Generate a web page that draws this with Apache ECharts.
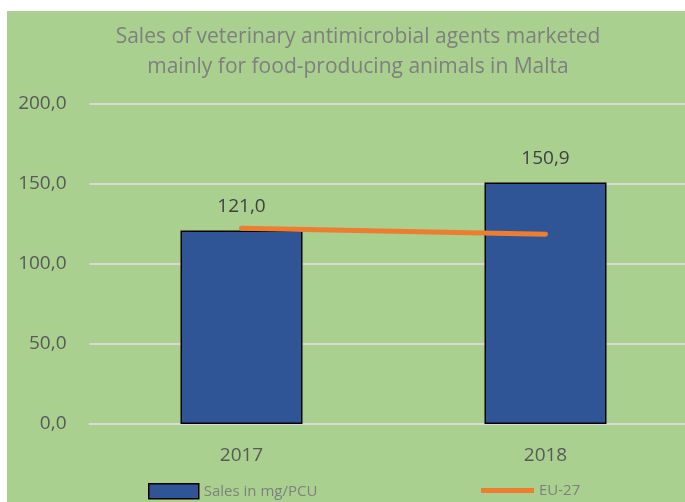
<!DOCTYPE html>
<html>
<head>
<meta charset="utf-8">
<script src="https://cdn.jsdelivr.net/npm/echarts@6/dist/echarts.min.js"></script>
<style>
html,body{margin:0;padding:0;background:#fff;overflow:hidden;width:685px;height:502px;}
#chart{width:700px;height:502px;}
</style>
</head>
<body>
<div id="chart"></div>
<script>
var categories = ['2017', '2018'];
var salesValues = [121.0, 150.9];
var euValues = [122.3, 118.6];
var yTicks = [0, 50, 100, 150, 200];
var titleLines = ['Sales of veterinary antimicrobial agents marketed', 'mainly for food-producing animals in Malta'];

var FONT = '"Open Sans", sans-serif';
function fmt(v){ return v.toFixed(1).replace('.', ','); }

var chart = echarts.init(document.getElementById('chart'));
chart.setOption({
  animation: false,
  backgroundColor: '#ffffff',
  graphic: [{
    type: 'rect', z: -100, silent: true,
    shape: {x: 7, y: 11, width: 700, height: 500},
    style: {fill: '#A9D08E'}
  }],
  title: {
    text: titleLines.join('\n'),
    left: 358, top: 22, textAlign: 'center', padding: 0,
    textStyle: {fontFamily: FONT, fontSize: 21, fontWeight: 'normal', color: '#7F7F7F', lineHeight: 30}
  },
  grid: {left: 89.5, right: 2.5, top: 104, height: 320, containLabel: false},
  xAxis: {
    type: 'category', data: categories,
    axisLine: {show: true, lineStyle: {color: '#D9D9D9', width: 2}},
    axisTick: {show: false},
    axisLabel: {fontFamily: FONT, fontSize: 19, color: '#595959', margin: 22}
  },
  yAxis: {
    type: 'value', min: 0, max: 200, interval: 50,
    axisLine: {show: false}, axisTick: {show: false},
    splitLine: {lineStyle: {color: '#D9D9D9', width: 2}},
    axisLabel: {fontFamily: FONT, fontSize: 19, color: '#595959', margin: 23, formatter: function(v){ return fmt(v); }}
  },
  legend: [{
    left: 148, top: 483, itemWidth: 50, itemHeight: 15, itemGap: 5, padding: 0,
    data: [{name: 'Sales in mg/PCU', icon: 'rect', itemStyle: {borderColor: '#000', borderWidth: 1.5}}],
    textStyle: {fontFamily: FONT, fontSize: 15, color: '#7F7F7F'}
  }, {
    left: 481, top: 483, itemWidth: 53, itemHeight: 15, padding: 0,
    data: [{name: 'EU-27', icon: 'path://M0,5 L53,5 L53,10 L0,10 Z'}],
    textStyle: {fontFamily: FONT, fontSize: 15, color: '#7F7F7F'}
  }],
  series: [{
    name: 'Sales in mg/PCU', type: 'bar', data: salesValues, barWidth: 122,
    itemStyle: {color: '#2F5597', borderColor: '#000', borderWidth: 1.5},
    label: {show: true, position: 'top', distance: 14, formatter: function(p){ return fmt(p.value); },
            fontFamily: FONT, fontSize: 19, color: '#404040'}
  }, {
    name: 'EU-27', type: 'line', data: euValues, symbol: 'none',
    lineStyle: {color: '#ED7D31', width: 5, cap: 'round'},
    itemStyle: {color: '#ED7D31'}
  }]
});
</script>
</body>
</html>
